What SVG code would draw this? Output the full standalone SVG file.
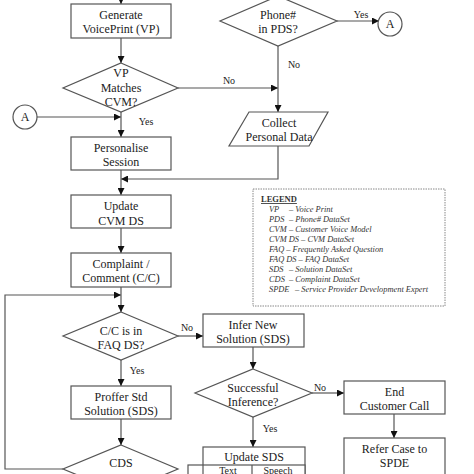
<svg xmlns="http://www.w3.org/2000/svg" width="474" height="474" viewBox="0 0 474 474">
<style>
.b{fill:#fff;stroke:#555;stroke-width:1.2}
.t{font-family:"Liberation Serif","Times New Roman",serif;font-size:12px;fill:#222;text-anchor:middle}
.s{font-family:"Liberation Serif","Times New Roman",serif;font-size:10px;fill:#222;text-anchor:middle}
.c{fill:none;stroke:#555;stroke-width:1.2}
.lg{font-family:"Liberation Serif","Times New Roman",serif;font-size:8.4px;font-style:italic;fill:#333}
</style>
<defs>
<marker id="ah" viewBox="0 0 10 10" refX="10" refY="5" markerWidth="7" markerHeight="7" markerUnits="userSpaceOnUse" orient="auto">
<path d="M0,0 L10,5 L0,10 z" fill="#111"/>
</marker>
</defs>
<rect width="474" height="474" fill="#fff"/>
<g id="connectors">
<path class="c" d="M121,-2 V4" marker-end="url(#ah)"/>
<path class="c" d="M121,38 V63" marker-end="url(#ah)"/>
<path class="c" d="M178,88 H278" marker-end="url(#ah)"/>
<path class="c" d="M337,21 H379" marker-end="url(#ah)"/>
<path class="c" d="M278,46 V112" marker-end="url(#ah)"/>
<path class="c" d="M37,117 H121" marker-end="url(#ah)"/>
<path class="c" d="M121,112 V137" marker-end="url(#ah)"/>
<path class="c" d="M278,146 V179 H121" marker-end="url(#ah)"/>
<path class="c" d="M121,170 V195" marker-end="url(#ah)"/>
<path class="c" d="M121,228 V253" marker-end="url(#ah)"/>
<path class="c" d="M63,469 H5 V295 H121" marker-end="url(#ah)"/>
<path class="c" d="M121,287 V312" marker-end="url(#ah)"/>
<path class="c" d="M178,336 H203" marker-end="url(#ah)"/>
<path class="c" d="M121,360 V386" marker-end="url(#ah)"/>
<path class="c" d="M121,419 V445" marker-end="url(#ah)"/>
<path class="c" d="M253,347 V369" marker-end="url(#ah)"/>
<path class="c" d="M312,393 H344" marker-end="url(#ah)"/>
<path class="c" d="M253,417 V447" marker-end="url(#ah)"/>
<path class="c" d="M394,414 V438" marker-end="url(#ah)"/>
<text class="s" x="229" y="84">No</text>
<text class="s" x="146" y="125">Yes</text>
<text class="s" x="361" y="18">Yes</text>
<text class="s" x="294" y="68">No</text>
<text class="s" x="187" y="331">No</text>
<text class="s" x="137" y="374">Yes</text>
<text class="s" x="320" y="391">No</text>
<text class="s" x="270" y="432">Yes</text>
</g>
<g id="generate"><rect class="b" x="71" y="4" width="100" height="34"/><text class="t" x="121" y="19">Generate</text><text class="t" x="121" y="33">VoicePrint (VP)</text></g>
<g id="phone"><polygon class="b" points="278,-4 337,21 278,46 220,21"/><text class="t" x="278" y="19">Phone#</text><text class="t" x="278" y="33">in PDS?</text></g>
<g id="circleA2"><circle class="b" cx="390" cy="24" r="12"/><text class="t" x="390" y="28">A</text></g>
<g id="vpmatch"><polygon class="b" points="121,63 178,88 121,112 63,88"/><text class="t" x="121" y="77">VP</text><text class="t" x="121" y="92">Matches</text><text class="t" x="121" y="106">CVM?</text></g>
<g id="circleA1"><circle class="b" cx="25" cy="117" r="12"/><text class="t" x="25" y="121">A</text></g>
<g id="collect"><polygon class="b" points="249,112 328,112 309,146 229,146"/><text class="t" x="279" y="127">Collect</text><text class="t" x="279" y="141">Personal Data</text></g>
<g id="personalise"><rect class="b" x="71" y="137" width="100" height="33"/><text class="t" x="121" y="152">Personalise</text><text class="t" x="121" y="166">Session</text></g>
<g id="updatecvm"><rect class="b" x="71" y="195" width="100" height="33"/><text class="t" x="121" y="210">Update</text><text class="t" x="121" y="225">CVM DS</text></g>
<g id="complaint"><rect class="b" x="71" y="253" width="100" height="34"/><text class="t" x="121" y="268">Complaint /</text><text class="t" x="121" y="282">Comment (C/C)</text></g>
<g id="legend">
<rect x="253" y="189" width="192" height="117" fill="#fff" stroke="#888" stroke-width="1" stroke-dasharray="1.5,1"/>
<text x="261" y="202" font-family="'Liberation Serif',serif" font-size="8.5px" font-weight="bold" fill="#333" text-decoration="underline">LEGEND</text>
<text class="lg" x="269" y="212">VP</text><text class="lg" x="289" y="212">– Voice Print</text>
<text class="lg" x="269" y="222">PDS</text><text class="lg" x="289" y="222">– Phone# DataSet</text>
<text class="lg" x="269" y="232">CVM</text><text class="lg" x="289" y="232">– Customer Voice Model</text>
<text class="lg" x="269" y="242">CVM DS – CVM DataSet</text>
<text class="lg" x="269" y="252">FAQ – Frequently Asked Question</text>
<text class="lg" x="269" y="262">FAQ DS – FAQ DataSet</text>
<text class="lg" x="269" y="272">SDS</text><text class="lg" x="289" y="272">– Solution DataSet</text>
<text class="lg" x="269" y="282">CDS</text><text class="lg" x="289" y="282">– Complaint DataSet</text>
<text class="lg" x="269" y="292">SPDE</text><text class="lg" x="295" y="292">– Service Provider Development Expert</text>
</g>
<g id="ccfaq"><polygon class="b" points="121,312 178,336 121,360 63,336"/><text class="t" x="121" y="335">C/C is in</text><text class="t" x="121" y="349">FAQ DS?</text></g>
<g id="infer"><rect class="b" x="203" y="314" width="101" height="33"/><text class="t" x="253" y="329">Infer New</text><text class="t" x="253" y="343">Solution (SDS)</text></g>
<g id="proffer"><rect class="b" x="71" y="386" width="100" height="33"/><text class="t" x="121" y="401">Proffer Std</text><text class="t" x="121" y="415">Solution (SDS)</text></g>
<g id="successful"><polygon class="b" points="253,369 312,393 253,417 195,393"/><text class="t" x="253" y="392">Successful</text><text class="t" x="253" y="406">Inference?</text></g>
<g id="endcall"><rect class="b" x="344" y="381" width="101" height="33"/><text class="t" x="394.5" y="396">End</text><text class="t" x="394.5" y="410">Customer Call</text></g>
<g id="refer"><rect class="b" x="344" y="438" width="101" height="40"/><text class="t" x="394.5" y="453">Refer Case to</text><text class="t" x="394.5" y="467">SPDE</text></g>
<g id="cds"><polygon class="b" points="121,445 178,469 121,493 63,469"/><text class="t" x="121" y="467">CDS</text></g>
<g id="updatesds">
<rect class="b" x="203" y="447" width="102" height="35"/>
<rect class="b" x="188" y="465" width="117" height="20"/>
<line class="c" x1="203" y1="465" x2="203" y2="480"/>
<line class="c" x1="252" y1="465" x2="252" y2="480"/>
<text class="t" x="254" y="461">Update SDS</text>
<text class="s" x="228" y="473.5">Text</text>
<text class="s" x="278" y="473.5">Speech</text>
</g>
</svg>
